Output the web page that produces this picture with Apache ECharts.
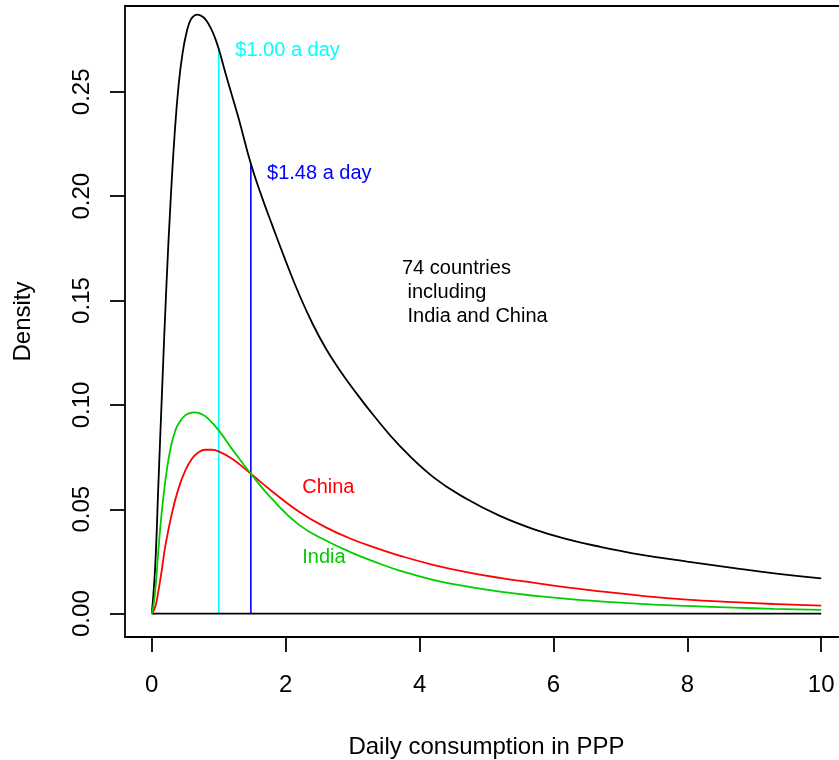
<!DOCTYPE html>
<html>
<head>
<meta charset="utf-8">
<script src="https://cdn.jsdelivr.net/npm/echarts@6/dist/echarts.min.js"></script>
<style>html,body{margin:0;padding:0;background:#fff;}#c{width:839px;height:760px;}</style>
</head>
<body>
<div id="c"></div>
<script>
// ---- data ----
const xTicks = [0, 2, 4, 6, 8, 10];
const yTicks = [0, 0.05, 0.10, 0.15, 0.20, 0.25];

// 74 countries including India and China
const allX = [0, 0.05, 0.1, 0.16, 0.22, 0.28, 0.34, 0.4, 0.46, 0.52, 0.58, 0.64, 0.68, 0.76, 0.82, 0.88, 0.94, 1.0, 1.1, 1.2, 1.3, 1.48, 1.64, 1.8, 2.0, 2.2, 2.4, 2.6, 2.8, 3.0, 3.3, 3.7, 4.2, 4.7, 5.2, 5.7, 6.2, 6.7, 7.3, 8.0, 8.7, 9.3, 10];
const allY = [0, 0.022, 0.063, 0.112, 0.158, 0.197, 0.229, 0.253, 0.2685, 0.2785, 0.2845, 0.2866, 0.287, 0.286, 0.2839, 0.2806, 0.2762, 0.2706, 0.259, 0.248, 0.237, 0.2155, 0.200, 0.186, 0.169, 0.153, 0.139, 0.127, 0.117, 0.108, 0.0955, 0.0805, 0.0655, 0.055, 0.0468, 0.0405, 0.0357, 0.032, 0.0283, 0.0249, 0.0218, 0.0193, 0.0169];

// China
const chinaX = [0, 0.05, 0.1, 0.15, 0.2, 0.3, 0.4, 0.5, 0.6, 0.7, 0.8, 0.9, 1.0, 1.2, 1.48, 1.8, 2.2, 2.6, 3.0, 3.4, 3.7, 4.2, 4.7, 5.2, 5.7, 6.2, 6.7, 7.3, 8.0, 8.7, 9.3, 10];
const chinaY = [0, 0.003, 0.011, 0.021, 0.032, 0.048, 0.060, 0.0685, 0.0742, 0.0773, 0.0785, 0.0785, 0.0777, 0.0742, 0.067, 0.0585, 0.0488, 0.0413, 0.0355, 0.0309, 0.0278, 0.0234, 0.0199, 0.0171, 0.0148, 0.0126, 0.0107, 0.0086, 0.0067, 0.0055, 0.0046, 0.0038];

// India
const indiaX = [0, 0.03, 0.06, 0.1, 0.15, 0.2, 0.25, 0.3, 0.35, 0.4, 0.5, 0.6, 0.65, 0.75, 0.85, 1.0, 1.2, 1.48, 1.8, 2.2, 2.6, 3.0, 3.4, 3.7, 4.2, 4.7, 5.2, 5.7, 6.2, 6.7, 7.3, 8.0, 8.7, 9.3, 10];
const indiaY = [0, 0.005, 0.014, 0.031, 0.049, 0.063, 0.074, 0.082, 0.0875, 0.091, 0.095, 0.0963, 0.0964, 0.0955, 0.0932, 0.0878, 0.0788, 0.067, 0.0548, 0.0425, 0.035, 0.029, 0.024, 0.0206, 0.0162, 0.013, 0.0105, 0.0086, 0.0071, 0.0059, 0.0047, 0.0037, 0.0029, 0.0023, 0.0018];

const baseX = [0, 10];
const baseY = [0, 0];

const povertyX = [1.00, 1.48];
const povertyTop = [0.2706, 0.2155];

const labelTexts = ['$1.00 a day', '$1.48 a day', '74 countries\n including\n India and China', 'China', 'India'];
const labelX = [1.24, 1.714, 3.73, 2.24, 2.24];
const labelY = [0.2700, 0.2107, 0.1540, 0.0602, 0.0271];
const labelColors = ['#00FFFF', '#0000FF', '#000000', '#FF0000', '#00CD00'];

// ---- chart ----
const FONT = '"Liberation Sans", Arial, Helvetica, sans-serif';
const pair = (xs, ys) => xs.map((x, i) => [x, ys[i]]);

const chart = echarts.init(document.getElementById('c'), null, {renderer: 'canvas'});

const lineSeries = (data, color, w) => ({
  type: 'line', data: data, showSymbol: false, symbol: 'none',
  smooth: 0.45, lineStyle: {color: color, width: w}, silent: true, z: 3
});

chart.setOption({
  animation: false,
  backgroundColor: '#ffffff',
  grid: {left: 125, top: 6, width: 723, height: 631, containLabel: false, outerBoundsMode: 'none',
    show: true, borderColor: '#000', borderWidth: 1.8, backgroundColor: 'transparent'},
  xAxis: {
    type: 'value', min: -0.4, max: 10.4,
    name: 'Daily consumption in PPP', nameLocation: 'middle', nameGap: 98,
    nameTextStyle: {fontFamily: FONT, fontSize: 24, color: '#000'},
    axisLine: {show: false, onZero: false},
    axisTick: {show: true, customValues: xTicks, length: 15, lineStyle: {color: '#000', width: 1.8}},
    axisLabel: {show: true, customValues: xTicks, margin: 36, fontFamily: FONT, fontSize: 24, color: '#000',
      formatter: v => String(v)},
    splitLine: {show: false}
  },
  yAxis: {
    type: 'value', min: -0.0112, max: 0.2911,
    name: 'Density', nameLocation: 'middle', nameGap: 90, nameRotate: 90,
    nameTextStyle: {fontFamily: FONT, fontSize: 24, color: '#000'},
    axisLine: {show: false, onZero: false},
    axisTick: {show: true, customValues: yTicks, length: 15, lineStyle: {color: '#000', width: 1.8}},
    axisLabel: {show: true, customValues: yTicks, margin: 31, rotate: 90, fontFamily: FONT, fontSize: 24, color: '#000',
      formatter: v => v.toFixed(2)},
    splitLine: {show: false}
  },
  series: [
    lineSeries(pair(baseX, baseY), '#000000', 1.6),
    {type: 'line', data: [[povertyX[0], 0], [povertyX[0], povertyTop[0]]], symbol: 'none', lineStyle: {color: '#00FFFF', width: 1.6}, silent: true, z: 2},
    {type: 'line', data: [[povertyX[1], 0], [povertyX[1], povertyTop[1]]], symbol: 'none', lineStyle: {color: '#0000FF', width: 1.6}, silent: true, z: 2},
    lineSeries(pair(allX, allY), '#000000', 1.8),
    lineSeries(pair(chinaX, chinaY), '#FF0000', 1.8),
    lineSeries(pair(indiaX, indiaY), '#00CD00', 1.8),
    {
      type: 'scatter', symbolSize: 1, silent: true, z: 5,
      itemStyle: {color: 'rgba(255,255,255,0)'},
      data: labelTexts.map((t, i) => ({
        value: [labelX[i], labelY[i]],
        label: {show: true, formatter: t, position: 'right', distance: 0, align: 'left', verticalAlign: 'middle',
          color: labelColors[i], opacity: 1, fontFamily: FONT, fontSize: 20, lineHeight: 24}
      }))
    }
  ]
});
</script>
</body>
</html>
